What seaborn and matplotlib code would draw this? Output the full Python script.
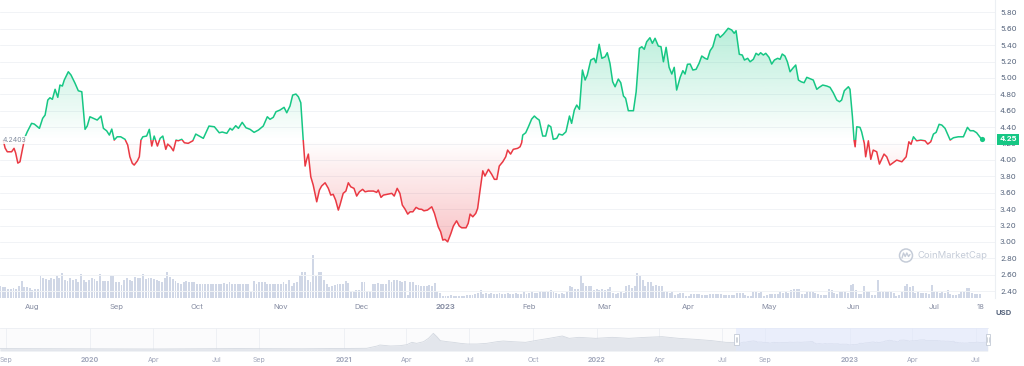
import numpy as np
import pandas as pd
import seaborn as sns
import matplotlib.pyplot as plt
import matplotlib.colors as mcolors
import matplotlib.dates as mdates
import matplotlib.transforms as mtransforms
from matplotlib.patches import Rectangle, Ellipse
from matplotlib.lines import Line2D

# -------------------------------
#  Datos
# -------------------------------
start_date = "2022-07-20"
base_price = 4.2403

# días desde start_date y precio (USD)
day_offset = [
    1.2, 1.9, 2.7, 4.3, 5.2, 5.8, 6.6, 7.4, 8.4, 9.3,
    10.1, 11.7, 12.7, 14.6, 15.8, 16.7, 17.7, 18.5, 19.4, 20.4,
    21.4, 22.2, 23.1, 23.8, 25.3, 26.3, 27.8, 29.0, 30.3, 31.5,
    32.3, 33.3, 34.6, 36.0, 37.4, 38.3, 39.5, 40.5, 41.4, 42.3,
    43.4, 44.7, 46.3, 47.3, 48.1, 49.0, 49.7, 50.9, 51.6, 52.2,
    52.9, 54.3, 55.3, 56.2, 57.1, 58.3, 59.3, 60.3, 61.4, 62.1,
    63.2, 64.2, 65.2, 66.0, 67.3, 68.3, 69.7, 71.4, 72.5, 73.8,
    75.3, 77.4, 79.4, 81.2, 82.3, 84.0, 85.2, 86.0, 87.3, 88.3,
    89.7, 91.1, 92.6, 94.1, 95.7, 97.5, 99.0, 100.0, 101.2, 102.2,
    103.7, 105.2, 106.2, 107.4, 108.4, 109.6, 110.5, 111.4, 112.3, 113.0,
    113.6, 114.2, 115.1, 116.0, 117.3, 118.3, 119.1, 120.4, 121.6, 122.5,
    123.4, 124.3, 125.3, 125.9, 127.1, 128.1, 129.0, 129.9, 131.1, 132.1,
    133.1, 134.3, 135.2, 136.4, 138.3, 139.5, 140.1, 141.1, 142.0, 143.8,
    145.1, 146.0, 147.1, 148.1, 149.0, 150.0, 151.0, 151.9, 152.9, 154.1,
    155.2, 156.2, 157.0, 158.3, 159.9, 160.9, 162.3, 163.2, 164.0, 164.8,
    165.8, 167.0, 167.9, 169.1, 170.1, 171.0, 172.6, 173.4, 174.1, 175.1,
    176.2, 176.9, 177.8, 178.8, 179.6, 180.9, 182.1, 183.1, 184.0, 184.9,
    186.2, 187.3, 188.0, 189.1, 190.1, 191.7, 192.6, 193.2, 193.6, 194.7,
    195.7, 196.9, 197.9, 198.8, 199.7, 201.0, 202.1, 203.1, 204.0, 204.9,
    206.2, 207.0, 208.3, 209.6, 210.9, 211.7, 212.7, 213.6, 214.6, 215.7,
    216.7, 217.5, 218.8, 220.0, 220.7, 221.9, 222.9, 224.1, 224.9, 225.9,
    226.9, 227.8, 229.0, 229.9, 230.9, 231.7, 232.7, 234.6, 235.6, 236.8,
    237.7, 238.6, 239.5, 240.7, 241.6, 242.6, 243.8, 244.8, 245.7, 246.7,
    247.8, 248.8, 249.7, 250.6, 251.9, 252.9, 253.7, 254.6, 255.6, 256.6,
    257.8, 258.9, 259.9, 261.1, 262.0, 263.0, 264.0, 265.2, 266.0, 266.7,
    267.9, 269.7, 271.0, 271.9, 272.6, 273.8, 274.9, 275.7, 276.9, 277.8,
    279.0, 280.0, 280.9, 281.7, 282.7, 283.6, 284.8, 285.8, 286.8, 288.0,
    288.9, 289.7, 290.7, 291.6, 292.6, 293.6, 294.7, 295.7, 296.7, 297.8,
    298.8, 300.3, 301.2, 302.5, 303.4, 304.7, 306.2, 307.4, 308.6, 309.9,
    310.9, 311.7, 312.7, 314.2, 314.8, 315.7, 316.3, 316.7, 317.3, 318.5,
    319.1, 320.1, 320.6, 321.6, 322.5, 323.4, 324.7, 325.7, 327.4, 328.4,
    329.6, 332.1, 334.0, 335.6, 336.6, 337.4, 338.3, 339.5, 341.0, 342.6,
    343.6, 344.7, 345.7, 346.7, 347.8, 348.8, 350.0, 351.9, 353.1, 354.9,
    356.8, 358.3, 359.3, 360.5, 361.7, 363.6]

price = [
    4.24, 4.145, 4.100, 4.100, 4.142, 4.085, 3.962, 3.978, 4.146, 4.283,
    4.344, 4.447, 4.438, 4.386, 4.508, 4.548, 4.731, 4.759, 4.740, 4.862,
    4.764, 4.914, 4.902, 4.975, 5.076, 5.036, 4.935, 4.844, 4.832, 4.374,
    4.414, 4.527, 4.508, 4.487, 4.536, 4.386, 4.356, 4.304, 4.377, 4.243,
    4.283, 4.283, 4.252, 4.182, 4.039, 3.959, 3.938, 3.990, 4.039, 4.243,
    4.283, 4.292, 4.374, 4.170, 4.292, 4.170, 4.264, 4.292, 4.130, 4.194,
    4.161, 4.112, 4.243, 4.234, 4.252, 4.210, 4.203, 4.234, 4.316, 4.292,
    4.264, 4.414, 4.405, 4.332, 4.341, 4.325, 4.386, 4.365, 4.418, 4.386,
    4.459, 4.393, 4.374, 4.337, 4.365, 4.414, 4.527, 4.496, 4.520, 4.588,
    4.609, 4.642, 4.576, 4.658, 4.792, 4.804, 4.771, 4.698, 4.243, 3.926,
    4.008, 4.072, 3.795, 3.694, 3.490, 3.633, 3.682, 3.722, 3.654, 3.572,
    3.581, 3.511, 3.389, 3.450, 3.593, 3.621, 3.722, 3.673, 3.654, 3.560,
    3.612, 3.642, 3.612, 3.621, 3.621, 3.605, 3.633, 3.544, 3.572, 3.584,
    3.593, 3.560, 3.654, 3.593, 3.450, 3.401, 3.340, 3.368, 3.368, 3.422,
    3.401, 3.398, 3.380, 3.389, 3.429, 3.349, 3.185, 3.124, 3.023, 3.032,
    3.002, 3.105, 3.194, 3.258, 3.194, 3.173, 3.173, 3.227, 3.340, 3.307,
    3.349, 3.410, 3.633, 3.868, 3.804, 3.886, 3.825, 3.764, 3.764, 3.926,
    3.978, 4.039, 4.121, 4.072, 4.130, 4.142, 4.161, 4.210, 4.304, 4.332,
    4.405, 4.499, 4.536, 4.508, 4.487, 4.292, 4.292, 4.426, 4.405, 4.252,
    4.264, 4.316, 4.304, 4.344, 4.536, 4.447, 4.609, 4.670, 4.618, 5.097,
    4.975, 5.036, 5.219, 5.240, 5.186, 5.411, 5.240, 5.259, 5.308, 5.179,
    4.954, 4.893, 4.987, 4.942, 4.780, 4.752, 4.601, 4.601, 4.832, 5.362,
    5.381, 5.350, 5.442, 5.491, 5.423, 5.484, 5.390, 5.381, 5.198, 5.374,
    5.130, 5.048, 5.130, 4.853, 5.008, 5.089, 5.048, 5.167, 5.170, 5.097,
    5.106, 5.179, 5.268, 5.240, 5.228, 5.333, 5.381, 5.524, 5.533, 5.496,
    5.533, 5.606, 5.585, 5.545, 5.576, 5.289, 5.280, 5.219, 5.240, 5.198,
    5.228, 5.301, 5.280, 5.308, 5.280, 5.301, 5.252, 5.170, 5.219, 5.240,
    5.228, 5.292, 5.268, 5.198, 5.076, 5.118, 5.158, 4.975, 4.954, 4.942,
    5.008, 4.987, 4.975, 4.862, 4.886, 4.914, 4.902, 4.886, 4.820, 4.731,
    4.710, 4.731, 4.845, 4.893, 4.862, 4.527, 4.243, 4.161, 4.405, 4.398,
    4.344, 4.203, 4.039, 4.234, 4.008, 4.121, 4.100, 3.950, 4.072, 4.039,
    3.938, 3.999, 3.978, 4.039, 4.222, 4.191, 4.283, 4.234, 4.243, 4.234,
    4.194, 4.222, 4.316, 4.337, 4.435, 4.426, 4.386, 4.243, 4.271, 4.283,
    4.283, 4.398, 4.357, 4.357, 4.332, 4.250]

# volumen diario (unidades relativas), un valor por día desde start_date
volume = [
    12, 11, 11, 9, 9, 10, 9, 12, 17, 11,
    11, 10, 8, 9, 9, 22, 20, 19, 18, 20,
    19, 22, 20, 25, 18, 17, 20, 18, 19, 16,
    24, 18, 16, 18, 20, 19, 17, 24, 17, 17,
    17, 23, 22, 16, 16, 13, 18, 20, 18, 17,
    21, 20, 20, 24, 19, 20, 20, 19, 18, 17,
    16, 20, 26, 21, 19, 17, 15, 14, 16, 17,
    16, 16, 16, 14, 14, 14, 14, 14, 14, 14,
    14, 14, 14, 15, 14, 16, 14, 14, 14, 14,
    14, 14, 14, 6, 17, 14, 16, 16, 16, 14,
    14, 14, 14, 14, 14, 16, 14, 18, 12, 15,
    16, 23, 26, 26, 18, 16, 43, 22, 26, 26,
    18, 14, 11, 12, 13, 14, 14, 14, 17, 15,
    6, 6, 8, 8, 16, 16, 7, 7, 14, 14,
    15, 14, 14, 14, 18, 16, 18, 18, 17, 16,
    17, 3, 16, 16, 13, 13, 12, 12, 12, 13,
    12, 15, 7, 5, 2, 2, 2, 3, 2, 2,
    2, 2, 2, 3, 3, 3, 4, 5, 8, 4,
    5, 4, 5, 4, 4, 5, 4, 4, 5, 4,
    4, 5, 4, 4, 7, 4, 5, 6, 5, 5,
    7, 6, 6, 6, 8, 7, 5, 4, 5, 4,
    6, 12, 11, 9, 9, 22, 15, 12, 12, 12,
    8, 9, 8, 9, 8, 9, 11, 5, 4, 5,
    6, 5, 12, 13, 10, 12, 25, 22, 18, 12,
    16, 16, 12, 13, 12, 12, 6, 6, 5, 6,
    3, 4, 5, 5, 2, 2, 4, 4, 4, 4,
    3, 3, 3, 4, 4, 4, 4, 4, 3, 3,
    3, 3, 3, 5, 5, 5, 3, 2, 2, 6,
    6, 5, 6, 2, 3, 4, 4, 4, 4, 7,
    5, 6, 5, 8, 9, 9, 9, 4, 4, 7,
    7, 6, 5, 4, 3, 3, 3, 9, 8, 5,
    4, 6, 6, 6, 5, 13, 14, 8, 4, 4,
    12, 7, 7, 3, 3, 18, 6, 6, 6, 6,
    6, 5, 2, 3, 6, 12, 14, 11, 12, 5,
    6, 5, 5, 5, 4, 13, 6, 6, 5, 6,
    5, 8, 4, 3, 3, 4, 7, 6, 10, 10,
    5, 4, 4, 4]

# historia completa para el navegador (antes del rango seleccionado)
nav_hist_dates = [
    "2019-08-24", "2019-12-01", "2020-04-01", "2020-08-01", "2020-11-01",
    "2021-01-15", "2021-02-03", "2021-02-18", "2021-02-22", "2021-03-09",
    "2021-03-23", "2021-04-02", "2021-04-09", "2021-04-16", "2021-04-26",
    "2021-05-03", "2021-05-10", "2021-05-15", "2021-05-20", "2021-05-30",
    "2021-06-08", "2021-06-18", "2021-06-28", "2021-07-12", "2021-07-26",
    "2021-08-10", "2021-08-19", "2021-09-01", "2021-09-20", "2021-10-09",
    "2021-10-24", "2021-11-07", "2021-11-12", "2021-11-22", "2021-12-06",
    "2021-12-30", "2022-01-23", "2022-02-16", "2022-03-12", "2022-04-05",
    "2022-04-29", "2022-05-23", "2022-06-16", "2022-07-06"]
nav_hist_values = [
    1.2, 1.1, 1.0, 1.2, 1.1,
    1.3, 1.35, 2.5, 3.0, 2.5,
    2.67, 3.17, 4.33, 3.83, 4.67,
    6.33, 8.83, 7.17, 5.17, 4.67,
    4.33, 3.83, 3.5, 3.5, 3.83,
    4.67, 5.0, 4.67, 4.33, 5.5,
    6.33, 7.17, 7.5, 6.33, 6.83,
    6.33, 6.83, 6.33, 6.83, 7.17,
    6.33, 5.83, 5.17, 4.33]

main_tick_dates = ["2022-08-01", "2022-09-01", "2022-10-01", "2022-11-01", "2022-12-01",
                   "2023-01-01", "2023-02-01", "2023-03-01", "2023-04-01", "2023-05-01",
                   "2023-06-01", "2023-07-01", "2023-07-18"]
main_tick_labels = ["Aug", "Sep", "Oct", "Nov", "Dec", "2023", "Feb", "Mar", "Apr", "May",
                    "Jun", "Jul", "18"]

nav_tick_dates = ["2019-09-01", "2020-01-01", "2020-04-01", "2020-07-01", "2020-09-01",
                  "2021-01-01", "2021-04-01", "2021-07-01", "2021-10-01", "2022-01-01",
                  "2022-04-01", "2022-07-01", "2022-09-01", "2023-01-01", "2023-04-01",
                  "2023-07-01"]
nav_tick_labels = ["Sep", "2020", "Apr", "Jul", "Sep", "2021", "Apr", "Jul", "Oct", "2022",
                   "Apr", "Jul", "Sep", "2023", "Apr", "Jul"]

# -------------------------------
#  Estilo
# -------------------------------
sns.set_theme(style="white")
plt.rcParams["font.family"] = ["Inter", "DejaVu Sans"]

GREEN = "#16c784"
RED = "#ea3943"
VOL = "#d0d7e6"
GRID = "#f1f3f6"
TXT = "#58667e"
TXT2 = "#858ca2"

start = pd.Timestamp(start_date)
dates = start + pd.to_timedelta(day_offset, unit="D")
df = pd.DataFrame({"date": dates, "price": price})
vol_dates = start + pd.to_timedelta(np.arange(len(volume)), unit="D")

W, H = 1024, 366
fig = plt.figure(figsize=(W / 100, H / 100), dpi=100, facecolor="white")


def fx(px):
    return px / W


def fy(py):
    return 1 - py / H


x_end = start + pd.Timedelta(days=368.5)
xa, xb = mdates.date2num(start), mdates.date2num(x_end)

# -------------------------------
#  Volumen (eje de fondo)
# -------------------------------
rect_main = [0, fy(298), fx(995), 298 / H]
ax_vol = fig.add_axes(rect_main)
ax_vol.bar(vol_dates, volume, width=0.72, color=VOL, linewidth=0)
ax_vol.set_ylim(0, max(volume) / 0.145)
ax_vol.set_xlim(start, x_end)
ax_vol.axis("off")

# -------------------------------
#  Precio
# -------------------------------
ax = fig.add_axes(rect_main, sharex=ax_vol)
ax.patch.set_visible(False)

ax.set_yticks(np.round(np.arange(2.4, 5.81, 0.2), 2))
ax.yaxis.tick_right()
ax.yaxis.set_major_formatter("{x:.2f}")
ax.grid(axis="y", color=GRID, lw=0.7, zorder=0)

# relleno degradado entre la línea y el precio base
fill = ax.fill_between(df["date"], df["price"], base_price, facecolor="none", edgecolor="none")
clip_path = fill.get_paths()[0]


def gradient(color, lo, hi, a_lo, a_hi):
    arr = np.zeros((256, 1, 4))
    arr[..., :3] = mcolors.to_rgb(color)
    arr[:, 0, 3] = np.linspace(a_lo, a_hi, 256)
    im = ax.imshow(arr, extent=[xa, xb, lo, hi], origin="lower", aspect="auto",
                   interpolation="bilinear", zorder=1)
    im.set_clip_path(clip_path, ax.transData)


gradient(GREEN, base_price, max(price), 0.0, 0.30)
gradient(RED, min(price), base_price, 0.30, 0.0)

# línea verde sobre el precio base y roja por debajo
sns.lineplot(data=df, x="date", y="price", ax=ax, color=GREEN, lw=1.1, zorder=3)
ax.lines[-1].set_clip_path(Rectangle((xa, base_price), xb - xa, 10, transform=ax.transData))
sns.lineplot(data=df, x="date", y="price", ax=ax, color=RED, lw=1.1, zorder=3)
ax.lines[-1].set_clip_path(Rectangle((xa, 0), xb - xa, base_price, transform=ax.transData))

sns.scatterplot(x=[dates[-1]], y=[price[-1]], ax=ax, color=GREEN, s=14, linewidth=0, zorder=4)

ax.set_xlim(start, x_end)
ax.set_ylim(2.317, 5.951)
ax.set_xlabel("")
ax.set_ylabel("")

ax.set_xticks(pd.to_datetime(main_tick_dates))
ax.set_xticklabels(main_tick_labels)
for lbl in ax.get_xticklabels():
    if len(lbl.get_text()) == 4:
        lbl.set_fontweight("bold")
ax.tick_params(axis="y", length=0, pad=3.6, labelsize=5.5, labelcolor=TXT)
ax.tick_params(axis="x", length=0, pad=4, labelsize=5.5, labelcolor=TXT2)

for s in ax.spines.values():
    s.set_visible(False)
ax.spines["right"].set_visible(True)
ax.spines["right"].set_color("#eceff3")
ax.spines["right"].set_linewidth(0.8)

trans = mtransforms.blended_transform_factory(ax.transAxes, ax.transData)
ax.text(0.003, base_price, f"{base_price:.4f}", transform=trans, ha="left", va="center",
        fontsize=5, color="#808a9d", zorder=5,
        bbox=dict(fc="white", ec="none", pad=0.6, alpha=0.85))
ax.text(1.0131, price[-1], f"{price[-1]:.2f}", transform=trans, ha="center", va="center",
        fontsize=5.5, fontweight="bold", color="white", zorder=10, clip_on=False,
        bbox=dict(boxstyle="square,pad=0.35", fc=GREEN, ec="none"))

# marca de agua
wm = "#c5ccd8"
fig.text(fx(917), fy(256), "CoinMarketCap", fontsize=6.8, color=wm, ha="left", va="center")
fig.add_artist(Ellipse((fx(906), fy(255.5)), 13 / W, 13 / H, fc="none", ec=wm, lw=1.1,
                       transform=fig.transFigure))
mx = [-4, -2.5, -0.8, 0.8, 2.5, 4]
my = [-2.5, 2.5, -1, 2.5, -1, 1]
fig.add_artist(Line2D([fx(906 + a) for a in mx], [fy(255.5 - b) for b in my], color=wm, lw=1.0,
                      transform=fig.transFigure))

fig.text(fx(1004), fy(313), "USD", fontsize=5.5, fontweight="bold", color=TXT, ha="center", va="center")

# -------------------------------
#  Navegador
# -------------------------------
ax_nav = fig.add_axes([0, fy(351), fx(988), 23 / H])
nav_dates = pd.to_datetime(nav_hist_dates).append(pd.DatetimeIndex(dates))
nav_values = list(nav_hist_values) + list(price)
nav = pd.DataFrame({"date": nav_dates, "value": nav_values})

ax_nav.set_facecolor("#fbfbfc")
ax_nav.fill_between(nav["date"], nav["value"], 0, color="#e3e6ec", lw=0, zorder=2)
sns.lineplot(data=nav, x="date", y="value", ax=ax_nav, color="#d3d8e0", lw=0.6, zorder=3)

sel_start = start + pd.Timedelta(days=1)
sel_end = pd.Timestamp("2023-07-19")
ax_nav.axvspan(sel_start, sel_end, color="#dfe6fb", alpha=0.6, lw=0, zorder=4)

nav_lo, nav_hi = pd.Timestamp("2019-08-24"), pd.Timestamp("2023-07-19")
ax_nav.set_xlim(nav_lo, nav_hi)
ax_nav.set_ylim(0, 11.5)
ax_nav.set_xlabel("")
ax_nav.set_ylabel("")
ax_nav.set_yticks([])
ax_nav.set_xticks(pd.to_datetime(nav_tick_dates))
ax_nav.set_xticklabels(nav_tick_labels)
for lbl in ax_nav.get_xticklabels():
    if len(lbl.get_text()) == 4:
        lbl.set_fontweight("bold")
ax_nav.tick_params(axis="x", length=0, pad=4, labelsize=5, labelcolor="#a1a7bb")
ax_nav.grid(axis="x", color="#eceff3", lw=0.6, zorder=1)
for s in ax_nav.spines.values():
    s.set_visible(False)
ax_nav.spines["top"].set_visible(True)
ax_nav.spines["top"].set_color("#eceff3")
ax_nav.spines["top"].set_linewidth(0.6)

tn = mtransforms.blended_transform_factory(ax_nav.transData, ax_nav.transAxes)
for d in [sel_start, sel_end]:
    c = mdates.date2num(d)
    ax_nav.add_patch(Rectangle((c - 3.6, 0.28), 7.2, 0.44, transform=tn, fc="white",
                               ec="#c3cad6", lw=0.6, zorder=6, clip_on=False))
    for off in (-1.0, 1.0):
        ax_nav.plot([c + off, c + off], [0.4, 0.6], transform=tn, color="#aab2c0",
                    lw=0.4, zorder=7, clip_on=False)

fig.savefig("out.png", dpi=100, facecolor="white")
